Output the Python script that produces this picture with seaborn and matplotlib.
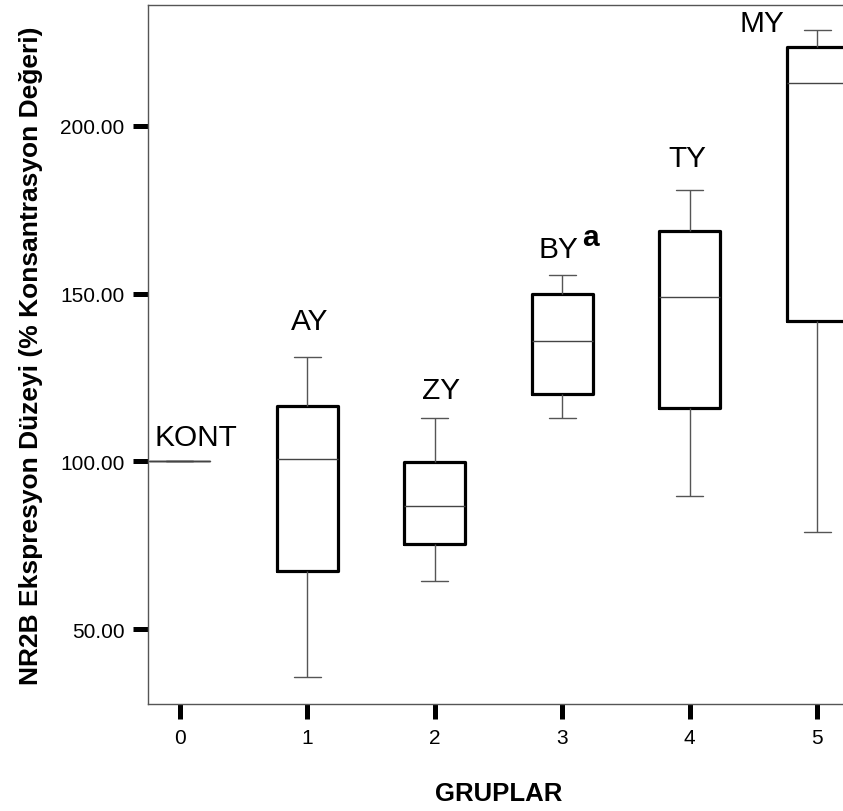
"""
    Boxplot NR2B ekspresyon düzeyi - gruplara göre
"""
import pandas as pd
import matplotlib
matplotlib.use('Agg')
import matplotlib.pyplot as plt
import seaborn as sns

# Gruplar ve kutu grafiği için okunan beş değer (min, Q1, medyan, Q3, max)
gruplar = ['0', '1', '2', '3', '4', '5']
grup_adlari = ['KONT', 'AY', 'ZY', 'BY', 'TY', 'MY']
kont = [100.0, 100.0, 100.0, 100.0, 100.0]
ay = [35.8, 67.5, 100.7, 116.6, 131.0]
zy = [64.5, 75.4, 86.8, 99.9, 112.9]
by = [113.0, 120.1, 136.0, 149.9, 155.5]
ty = [89.8, 115.9, 149.0, 168.5, 180.8]
my = [78.9, 141.8, 212.6, 223.5, 228.4]

# Etiketlerin konumu (x, y) veri koordinatında
etiket_x = [-0.2, 1.02, 2.05, 2.97, 3.98, 4.57]
etiket_y = [104.9, 139.4, 118.9, 160.9, 188.0, 228.2]

degerler = [kont, ay, zy, by, ty, my]
df = pd.DataFrame({
    'grup': [g for g, v in zip(gruplar, degerler) for _ in v],
    'deger': [x for v in degerler for x in v],
})

sns.set_style('white')
plt.rcParams['font.family'] = ['Liberation Sans', 'DejaVu Sans']
plt.rcParams['text.color'] = 'black'
plt.rcParams['axes.labelcolor'] = 'black'
plt.rcParams['xtick.color'] = 'black'
plt.rcParams['ytick.color'] = 'black'

fig = plt.figure(figsize=(8.43, 8.12), dpi=100)
ax = fig.add_axes([148 / 843, 107 / 812, 701 / 843, 699 / 812])

sns.boxplot(data=df, x='grup', y='deger', order=gruplar, ax=ax,
            width=0.48, whis=(0, 100), fill=False, color='black',
            capwidths=0.21,
            boxprops=dict(linewidth=2.3, color='black'),
            whiskerprops=dict(linewidth=1.0, color='#555555'),
            capprops=dict(linewidth=1.0, color='#555555'),
            medianprops=dict(linewidth=1.0, color='#444444'))

ax.set_xlim(-0.25, 5.25)
ax.set_ylim(27.8, 235.9)

# KONT grubunda sadece ince çizgi görünüyor
for ln in ax.lines:
    y = ln.get_ydata()
    x = ln.get_xdata()
    if len(y) > 2 and max(y) - min(y) < 1e-6 and max(x) < 0.5:
        ln.set_linewidth(1.0)
        ln.set_color('#555555')

# Grup etiketleri
for i, ad in enumerate(grup_adlari):
    ha = 'left' if i == 0 else 'center'
    ax.text(etiket_x[i], etiket_y[i], ad, ha=ha, va='baseline', fontsize=21.5)
ax.text(3.153, 164.4, 'a', ha='left', va='baseline', fontsize=21.5,
        fontweight='bold')

ax.set_yticks([50, 100, 150, 200])
ax.set_yticklabels(['50.00', '100.00', '150.00', '200.00'])
ax.tick_params(axis='both', direction='out', length=11, width=3.6,
               color='black', labelsize=15, pad=6, left=True, bottom=True)

for s in ['left', 'bottom', 'top', 'right']:
    ax.spines[s].set_color('#555555')
    ax.spines[s].set_linewidth(1.0)

ax.set_xlabel('GRUPLAR', fontsize=18.5, fontweight='bold', labelpad=25)
ax.set_ylabel('NR2B Ekspresyon Düzeyi (% Konsantrasyon Değeri)',
              fontsize=19, fontweight='bold', labelpad=12)

plt.savefig('out.png', dpi=100)
